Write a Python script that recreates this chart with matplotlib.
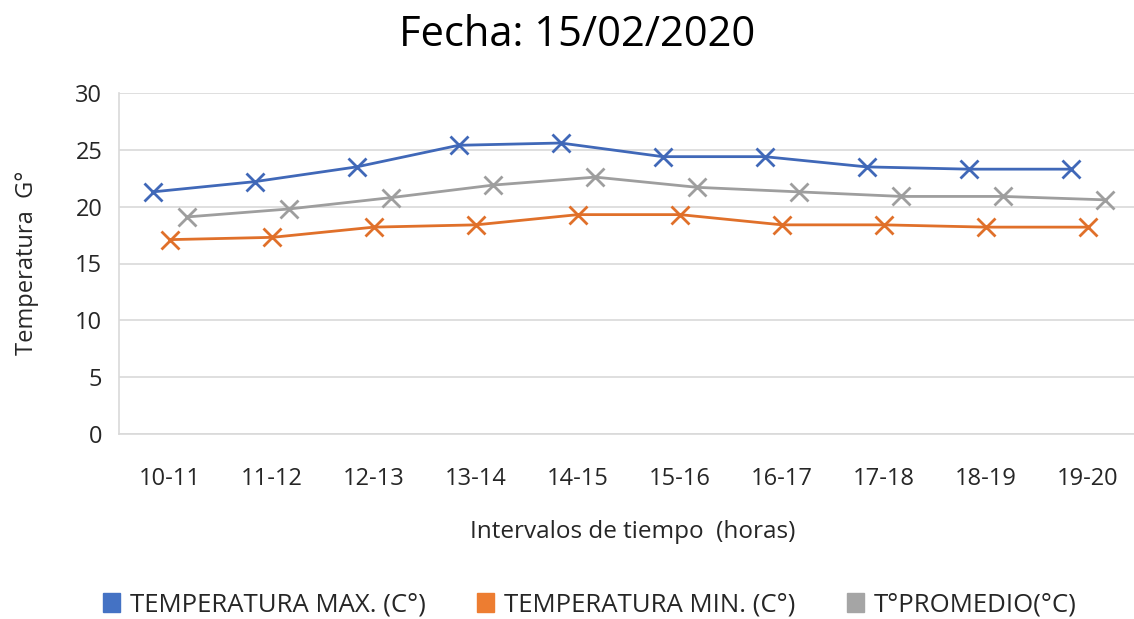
import numpy as np
import matplotlib
matplotlib.use("Agg")
import matplotlib.pyplot as plt
from matplotlib.patches import Patch

plt.rcParams['font.family'] = ['Open Sans', 'DejaVu Sans']

categories = ["10-11", "11-12", "12-13", "13-14", "14-15",
              "15-16", "16-17", "17-18", "18-19", "19-20"]
temp_max = [21.3, 22.2, 23.5, 25.4, 25.6, 24.4, 24.4, 23.5, 23.3, 23.3]
temp_min = [17.1, 17.3, 18.2, 18.4, 19.3, 19.3, 18.4, 18.4, 18.2, 18.2]
temp_avg = [19.1, 19.8, 20.8, 21.9, 22.6, 21.7, 21.3, 20.9, 20.9, 20.6]
series_labels = ["TEMPERATURA MAX. (C°)", "TEMPERATURA MIN. (C°)", "T°PROMEDIO(°C)"]
y_ticks = [0, 5, 10, 15, 20, 25, 30]

line_colors = ["#4068B8", "#E0702A", "#9E9E9E"]
patch_colors = ["#4472C4", "#ED7D31", "#A5A5A5"]
offsets = [-0.17, 0.0, 0.17]

W, H = 1134, 619
fig = plt.figure(figsize=(W / 100, H / 100), dpi=100)
left, right = 119 / W, 1139 / W
bottom, top = (H - 434) / H, (H - 93) / H
ax = fig.add_axes([left, bottom, right - left, top - bottom])

x = np.arange(len(categories))
for vals, c, off in zip([temp_max, temp_min, temp_avg], line_colors, offsets):
    ax.plot(x + off, vals, color=c, lw=2.0, marker='x', markersize=13,
            markeredgewidth=2.0, zorder=3, clip_on=False)

ax.set_xlim(-0.5, len(categories) - 0.5)
ax.set_ylim(0, 30)
ax.set_yticks(y_ticks)
ax.set_xticks(x)
ax.set_xticklabels(categories)
ax.yaxis.grid(True, color="#d9d9d9", lw=1.2)
ax.set_axisbelow(True)
for s in ["top", "right"]:
    ax.spines[s].set_visible(False)
for s in ["left", "bottom"]:
    ax.spines[s].set_color("#d9d9d9")
    ax.spines[s].set_linewidth(1.2)
ax.tick_params(axis='both', length=0, labelsize=17, colors="#262626")
ax.tick_params(axis='x', pad=24)
ax.tick_params(axis='y', pad=12)

fig.text(577 / W, 1 - 35 / H, "Fecha: 15/02/2020", ha='center', va='center',
         fontsize=30, color="#000000")
fig.text(633 / W, 1 - 532 / H, "Intervalos de tiempo  (horas)", ha='center', va='center',
         fontsize=17.5, color="#262626")
fig.text(27 / W, 1 - 263 / H, "Temperatura  G°", ha='center', va='center',
         rotation=90, fontsize=17, color="#262626")

handles = [Patch(facecolor=c, edgecolor=c) for c in patch_colors]
fig.legend(handles, series_labels, loc='center', bbox_to_anchor=(590 / W, 1 - 605 / H),
           ncol=3, frameon=False, fontsize=18.5, handlelength=0.65, handleheight=0.8,
           handletextpad=0.4, columnspacing=2.0, labelcolor="#262626")

fig.savefig("out.png", dpi=100)
